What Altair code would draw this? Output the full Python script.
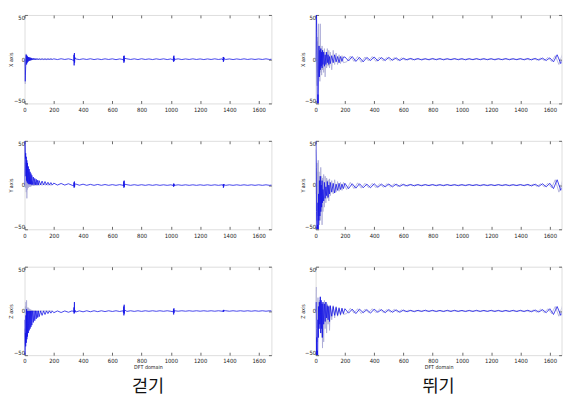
import altair as alt
import pandas as pd

# ---------------- data ----------------
EARLY_X = [0, 2, 4, 6, 8, 10, 12, 14, 16, 18, 20, 23, 26, 29, 32, 35, 38, 41, 44, 47,
           50, 55, 60, 65, 70, 75, 80, 85, 90, 95, 100, 110, 120, 130, 140, 150, 160, 170, 180, 190]
LATE_X = list(range(200, 1701, 25))
LATE_X2 = list(range(212, 1713, 25))
SPIKE_CENTERS = [340, 680, 1020, 1360]
SPIKE_OFFSETS = [-4, -2, -1, 1, 2, 4]
XTICKS = [0, 200, 400, 600, 800, 1000, 1200, 1400, 1600]
YTICKS = [-50, 0, 50]

# walking (걷기) X
WX_BLUE_EARLY = [0, -12, -25, -18, -8, 2, 5, -6, 4, -4, 3, -3, 2.5, -2, 2, -1.5, 1.8, -1.2, 1.5, -1,
                 1.2, -0.8, 1, -0.7, 0.8, -0.6, 0.7, -0.5, 0.6, -0.5, 0.5, -0.4, 0.5, -0.4, 0.4, -0.4, 0.4, -0.3, 0.4, -0.3]
WX_LIGHT_EARLY = [0, -16, -28, -10, 3, 6, -4, 5, -5, 3, -3, 2.5, -2.5, 2, -2, 1.5, -1.5, 1.2, -1.2, 1,
                  -1, 0.8, -0.8, 0.7, -0.7, 0.6, -0.6, 0.5, -0.5, 0.5, -0.4, 0.4, -0.4, 0.4, -0.3, 0.3, -0.3, 0.3, -0.3, 0.3]
WX_BLUE_LATE = [0.4, -0.4, 0.5, -0.3, 0.4, -0.5, 0.3, -0.4, 0.4, -0.3, 0.5, -0.4, 0.3, -0.4, 0.4, -0.3, 0.4, -0.5, 0.3, -0.4,
                0.4, -0.3, 0.4, -0.4, 0.5, -0.3, 0.3, -0.4, 0.4, -0.3, 0.4, -0.4, 0.3, -0.3, 0.4, -0.4, 0.3, -0.3, 0.4, -0.3,
                0.3, -0.4, 0.3, -0.3, 0.4, -0.3, 0.3, -0.3, 0.3, -0.4, 0.3, -0.3, 0.4, -0.3, 0.3, -0.3, 0.3, -0.3, 0.4, -0.3, 0.3]
WX_SPIKES = [[-2, 5, -7, 7, -4, 2], [-1.5, 3.5, -4, 4, -2.5, 1], [-1, 3, -3, 4, -2, 1], [-1, 2.5, -3, 2.5, -1.5, 0.8]]

# walking Y
WY_BLUE_EARLY = [0, 50, 42, 30, 36, 10, 32, 5, 28, 3, 25, 2, 21, 1, 18, 1, 15, 1, 13, 0.5,
                 11, 0.5, 9, 0.3, 7.5, 0.3, 6.5, 0.2, 5.5, 0.2, 5, 0.2, 4.5, 0.1, 4, 0.1, 3.2, 0, 2.8, 0]
WY_LIGHT_EARLY = [0, 45, 10, 25, -3, 18, -8, 12, -15, 10, -5, 8, -3, 14, -2, 9, -2, 6, -1.5, 5,
                  -1, 4, -1, 3.5, -0.8, 3, -0.6, 2.5, -0.5, 2, -0.5, 1.8, -0.4, 1.5, -0.3, 1.2, -0.3, 1, -0.3, 0.8]
WY_BLUE_LATE = [2.2, 0, 1.8, 0, 1.5, -0.2, 1.2, -0.2, 1, -0.3, 0.8, -0.3, 0.7, -0.3, 0.6, -0.3, 0.5, -0.3, 0.5, -0.3,
                0.4, -0.3, 0.4, -0.3, 0.4, -0.3, 0.4, -0.3, 0.4, -0.3, 0.3, -0.3, 0.3, -0.3, 0.3, -0.3, 0.3, -0.3, 0.3, -0.3,
                0.3, -0.3, 0.3, -0.3, 0.3, -0.3, 0.3, -0.3, 0.3, -0.3, 0.3, -0.3, 0.3, -0.3, 0.3, -0.3, 0.3, -0.3, 0.3, -0.3, 0.3]
WY_SPIKES = [[-1, 3, -3, 4, -2, 1], [-1, 4, -3, 5, -2, 1], [-0.5, 1.5, -2, 1.5, -1, 0.5], [-0.5, 1, -3, 1, -1.5, 0.5]]

# walking Z
WZ_BLUE_EARLY = [-10, -50, -45, -25, -40, -5, -36, 2, -32, 0, -29, 0, -25, 0, -22, 0, -20, 0, -18, 0,
                 -16, 0, -13, 0, -11, 0, -9, 0, -7.5, 0, -6.5, 0, -5, 0, -4, 0, -3, 0, -2.5, 0]
WZ_LIGHT_EARLY = [-45, -20, -38, 5, -25, 10, -8, 12, -10, 3, -5, 4, -3, 3, -2, 2, -1.5, 1.5, -1.2, 1.2,
                  -1, 1, -0.8, 0.8, -0.7, 0.7, -0.6, 0.6, -0.5, 0.5, -0.5, 0.4, -0.4, 0.4, -0.3, 0.3, -0.3, 0.3, -0.3, 0.3]
WZ_BLUE_LATE = [-2, 0, -1.8, 0, -1.5, 0.1, -1.2, 0.1, -1, 0.2, -0.9, 0.2, -0.8, 0.2, -0.7, 0.2, -0.6, 0.2, -0.6, 0.2,
                -0.5, 0.2, -0.5, 0.2, -0.5, 0.2, -0.4, 0.2, -0.4, 0.2, -0.4, 0.2, -0.4, 0.2, -0.3, 0.2, -0.3, 0.2, -0.3, 0.2,
                -0.3, 0.2, -0.3, 0.2, -0.3, 0.2, -0.3, 0.2, -0.3, 0.2, -0.3, 0.2, -0.3, 0.2, -0.3, 0.2, -0.3, 0.2, -0.3, 0.2, -0.3]
WZ_SPIKES = [[-1, 4, -3, 10, -2, 1], [-2, 5, -5, 7, -3, 1], [-1, 2, -4, 3, -2, 0.5], [-0.5, 1, -1, 1.2, -0.5, 0.3]]

# running (뛰기) X
RX_BLUE_EARLY = [0, 20, 50, 50, 30, -10, -50, -50, -40, -50, -10, 15, -20, 10, -12, 12, -8, 8, -10, 10,
                 -6, 8, -8, 5, -6, 8, -4, 5, -6, 3, -5, 4, -4, 5, -3, 3, -4, 3, -2.5, 2.5]
RX_LIGHT_EARLY = [0, 30, 45, 10, -10, -30, 20, -15, 25, -20, 40, -10, 15, -25, 40, -15, 12, -18, 15, -12,
                  10, -15, 12, -20, 8, -10, 12, -8, 10, -10, 8, -12, 10, -6, 7, -6, 5, -5, 4, -4]
RX_BLUE_LATE = [2.5, -2, 3, -2.5, 2, -3, 2, -1.5, 2.5, -2, 1.8, -1.5, 2, -1.2, 1.5, -1.5, 1, -0.8, 0.9, -0.7,
                0.7, -0.8, 0.6, -0.7, 0.8, -0.6, 0.7, -0.7, 0.6, -0.6, 0.7, -0.6, 0.6, -0.7, 0.6, -0.6, 0.7, -0.6, 0.6, -0.6,
                0.6, -0.7, 0.6, -0.6, 0.7, -0.6, 0.6, -0.6, 0.7, -0.7, 0.8, -0.8, 0.9, -1, 1.2, -1.5, 1.5, -3, 5, -5, 4]
RX_LIGHT_LATE = [-3, 3.5, -2.5, 3, -3.5, 2.5, -2, 3, -2.5, 2.5, -2, 2, -1.8, 1.8, -1.5, 1.5, -1, 0.8, -0.8, 0.6,
                 -0.5, 0.5, -0.5, 0.5, -0.5, 0.5, -0.4, 0.4, -0.5, 0.5, -0.4, 0.4, -0.5, 0.5, -0.4, 0.4, -0.4, 0.5, -0.5, 0.4,
                 -0.4, 0.5, -0.5, 0.5, -0.4, 0.4, -0.5, 0.5, -0.5, 0.5, -0.8, 0.8, -1, 1.2, -1.5, 2, -2.5, 4, -6, 6, -4]

# running Y
RY_BLUE_EARLY = [50, 50, 20, -30, -50, -50, -45, -50, -20, -50, -10, -40, 5, -35, 10, -30, 0, -25, 5, -20,
                 -5, -18, 3, -15, -2, -12, 4, -14, 0, -10, 3, -8, 2, -9, 1, -6, 2, -5, 1, -4]
RY_LIGHT_EARLY = [40, 30, -10, 20, -40, 25, -30, 15, -35, 28, -20, 15, -45, 10, -40, 20, -30, 10, -45, 8,
                  -30, 12, -25, 10, -20, 8, -15, 6, -18, 7, -12, 5, -10, 6, -8, 4, -7, 3, -6, 3]
RY_BLUE_LATE = [2, -4, 1.5, -3.5, 1.5, -3, 1, -3, 1.5, -2.5, 1, -2, 1.2, -2, 1, -1.5, 0.8, -1, 0.7, -0.9,
                0.6, -0.8, 0.6, -0.7, 0.6, -0.7, 0.5, -0.7, 0.6, -0.6, 0.5, -0.7, 0.5, -0.6, 0.6, -0.6, 0.5, -0.7, 0.5, -0.6,
                0.5, -0.6, 0.6, -0.6, 0.5, -0.7, 0.5, -0.6, 0.6, -0.7, 0.8, -1, 1, -1.5, 1.5, -2, 2, -4, 6, -6, 3]
RY_LIGHT_LATE = [-5, 3, -4, 2.5, -3.5, 2, -3, 2, -3, 1.5, -2.5, 1.5, -2, 1.5, -1.8, 1.2, -1.2, 0.8, -0.8, 0.6,
                 -0.6, 0.5, -0.5, 0.6, -0.5, 0.5, -0.5, 0.5, -0.5, 0.4, -0.5, 0.4, -0.4, 0.5, -0.4, 0.4, -0.5, 0.4, -0.4, 0.5,
                 -0.5, 0.4, -0.4, 0.5, -0.5, 0.4, -0.5, 0.5, -0.4, 0.5, -0.8, 1, -1.5, 1.5, -2, 2, -3, 6, -8, 5, -4]

# running Z
RZ_BLUE_EARLY = [0, 10, -20, -50, -30, -50, -45, -50, -10, -30, 5, -20, 10, -15, 16, -25, 12, -20, 8, -30,
                 10, -15, 8, -12, 10, -8, 6, -10, 5, -12, 6, -6, 5, -5, 4, -5, 3, -4, 3, -3]
RZ_LIGHT_EARLY = [10, 20, 27, -10, 10, -35, 5, -20, 15, -30, 10, -20, 12, -15, 15, -25, 10, -30, 5, -42,
                  8, -35, 12, -20, 10, -25, 8, -15, 6, -22, 5, -10, 6, -8, 5, -6, 4, -5, 3, -4]
RZ_BLUE_LATE = [2.5, -2.5, 2, -3, 2, -2, 1.5, -2.5, 2, -1.5, 1.5, -2, 1.5, -1.5, 1.2, -1.5, 0.9, -0.9, 0.7, -0.8,
                0.7, -0.6, 0.8, -0.6, 0.7, -0.7, 0.6, -0.7, 0.7, -0.6, 0.7, -0.6, 0.6, -0.7, 0.6, -0.6, 0.7, -0.6, 0.6, -0.6,
                0.7, -0.6, 0.6, -0.7, 0.6, -0.6, 0.7, -0.7, 0.7, -0.7, 0.8, -0.9, 1, -1.2, 1.5, -2, 2.5, -4, 5, -5, 3]
RZ_LIGHT_LATE = [-3, 3, -2.5, 2.5, -3, 2, -2, 2.5, -2, 2, -1.8, 1.5, -1.5, 1.8, -1.5, 1.2, -0.9, 0.8, -0.7, 0.6,
                 -0.5, 0.6, -0.5, 0.5, -0.5, 0.5, -0.5, 0.4, -0.4, 0.5, -0.5, 0.4, -0.4, 0.5, -0.4, 0.4, -0.5, 0.4, -0.4, 0.5,
                 -0.4, 0.5, -0.5, 0.4, -0.5, 0.4, -0.5, 0.5, -0.5, 0.5, -1, 1, -1.5, 2, -2, 2.5, -3, 5, -6, 6, -3]

# ---------------- build table ----------------
rows = []


def add(panel, series, xs, ys):
    assert len(xs) == len(ys), (panel, series, len(xs), len(ys))
    for xv, yv in zip(xs, ys):
        rows.append({"panel": panel, "series": series, "x": xv, "y": yv})


def add_spikes(panel, spikes):
    for c, vals in zip(SPIKE_CENTERS, spikes):
        add(panel, "blue", [c + o for o in SPIKE_OFFSETS], vals)


add("wx", "blue", EARLY_X, WX_BLUE_EARLY)
add("wx", "blue", LATE_X, WX_BLUE_LATE)
add_spikes("wx", WX_SPIKES)
add("wx", "light", EARLY_X, WX_LIGHT_EARLY)
add("wy", "blue", EARLY_X, WY_BLUE_EARLY)
add("wy", "blue", LATE_X, WY_BLUE_LATE)
add_spikes("wy", WY_SPIKES)
add("wy", "light", EARLY_X, WY_LIGHT_EARLY)
add("wz", "blue", EARLY_X, WZ_BLUE_EARLY)
add("wz", "blue", LATE_X, WZ_BLUE_LATE)
add_spikes("wz", WZ_SPIKES)
add("wz", "light", EARLY_X, WZ_LIGHT_EARLY)
for key, be, bl, le, ll in [("rx", RX_BLUE_EARLY, RX_BLUE_LATE, RX_LIGHT_EARLY, RX_LIGHT_LATE),
                            ("ry", RY_BLUE_EARLY, RY_BLUE_LATE, RY_LIGHT_EARLY, RY_LIGHT_LATE),
                            ("rz", RZ_BLUE_EARLY, RZ_BLUE_LATE, RZ_LIGHT_EARLY, RZ_LIGHT_LATE)]:
    add(key, "blue", EARLY_X, be)
    add(key, "blue", LATE_X, bl)
    add(key, "light", EARLY_X, le)
    add(key, "light", LATE_X2, ll)

df = pd.DataFrame(rows)

BLUE = "#1414e6"
LIGHT = "#a9a9d6"
AXFONT = "Liberation Sans Narrow, DejaVu Sans Condensed, Liberation Sans, Arial, sans-serif"
TXT = "#222222"
TICK = "#666666"


def panel(key, ytitle, xmax, width, bottom=False, ktitle=""):
    base = alt.Chart(df).transform_filter(alt.datum.panel == key)
    xs = alt.Scale(domain=[0, xmax], nice=False, zero=False)
    ys = alt.Scale(domain=[-50, 50], nice=False)
    xaxis_b = alt.Axis(orient="bottom", values=XTICKS, format="d", offset=-3, tickSize=3,
                       labelPadding=3, domain=False, grid=False, labelFlush=False,
                       labelFont=AXFONT, labelFontSize=6, labelColor=TXT, tickColor=TICK,
                       titleFont=AXFONT, titleFontSize=5.5, titleFontWeight="normal",
                       titleColor=TXT, titlePadding=1)
    xaxis_t = alt.Axis(orient="top", values=XTICKS, offset=-3, tickSize=3, labels=False,
                       domain=False, grid=False, tickColor=TICK)
    yaxis_l = alt.Axis(orient="left", values=YTICKS, offset=-3, tickSize=3, labelPadding=0,
                       domain=False, grid=False, labelFlush=True,
                       labelFont=AXFONT, labelFontSize=6, labelColor=TXT, tickColor=TICK,
                       titleFont=AXFONT, titleFontSize=5.5, titleFontWeight="normal",
                       titleColor=TXT, titlePadding=-0.5)
    yaxis_r = alt.Axis(orient="right", values=YTICKS, offset=-3, tickSize=3, labels=False,
                       domain=False, grid=False, tickColor=TICK)
    xt = "DFT domain" if bottom else None
    light = base.transform_filter(alt.datum.series == "light").mark_line(
        color=LIGHT, strokeWidth=0.8, clip=True).encode(
        x=alt.X("x:Q", scale=xs, axis=xaxis_t, title=None),
        y=alt.Y("y:Q", scale=ys, axis=yaxis_r, title=None))
    blue = base.transform_filter(alt.datum.series == "blue").mark_line(
        color=BLUE, strokeWidth=0.8, clip=True).encode(
        x=alt.X("x:Q", scale=xs, axis=xaxis_b, title=xt),
        y=alt.Y("y:Q", scale=ys, axis=yaxis_l, title=ytitle))
    ch = alt.layer(light, blue).resolve_axis(x="independent", y="independent").properties(
        width=width, height=91)
    if bottom:
        ch = ch.properties(title=alt.TitleParams(
            text=ktitle, orient="bottom", frame="group", anchor="middle",
            font="Noto Sans CJK KR", fontSize=18, fontWeight="normal", color="#111111", offset=8))
    return ch


LW, LMAX = 254, 1687
RW, RMAX = 253, 1680
VS = 27.5

left = alt.vconcat(panel("wx", "X axis", LMAX, LW), panel("wy", "Y axis", LMAX, LW),
                   panel("wz", "Z axis", LMAX, LW, True, "걷기"), spacing=VS)
right = alt.vconcat(panel("rx", "X axis", RMAX, RW), panel("ry", "Y axis", RMAX, RW),
                    panel("rz", "Z axis", RMAX, RW, True, "뛰기"), spacing=VS)

chart = alt.hconcat(left, right, spacing=27.5).properties(
    padding={"left": 0, "top": 0.5, "right": 0, "bottom": 0}).configure_view(
    stroke="#7a7a7a", strokeWidth=1).configure(background="white")

chart.save("out.html", embed_options={"renderer": "svg", "actions": False})
